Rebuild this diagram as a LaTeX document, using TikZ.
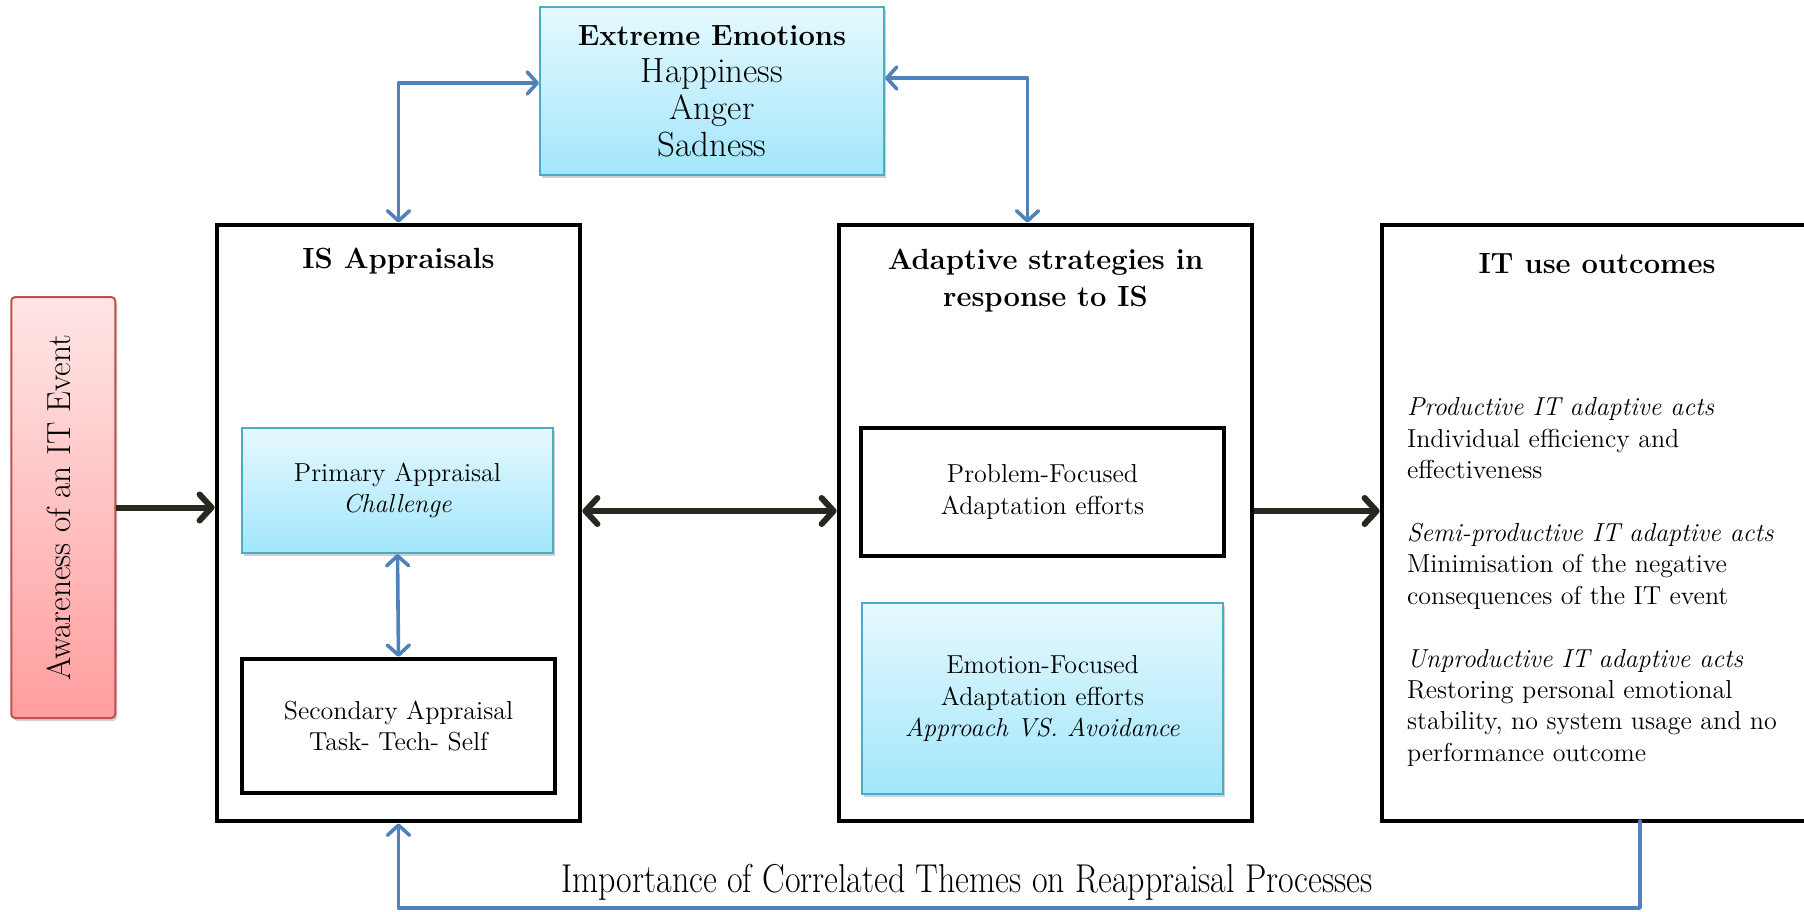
\documentclass[tikz,border=0pt]{standalone}
\usepackage{tikz}
\usetikzlibrary{arrows.meta,shadows}
\definecolor{arrowblue}{RGB}{79,129,189}
\definecolor{darkline}{RGB}{40,40,30}
\definecolor{cyanedge}{RGB}{75,172,198}
\definecolor{cyantop}{RGB}{230,249,254}
\definecolor{cyanbot}{RGB}{162,230,251}
\definecolor{pinktop}{RGB}{255,230,230}
\definecolor{pinkbot}{RGB}{255,158,158}
\definecolor{pinkedge}{RGB}{192,80,77}
\newcommand\bigtxt{\fontsize{17.5}{18.5}\selectfont}
\newcommand\headtxt{\fontsize{14.6}{18.5}\selectfont\bfseries}
\newcommand\smalltxt{\fontsize{13}{15.7}\selectfont}
\tikzset{
  bigbox/.style={draw=black,line width=2.4pt,inner sep=0pt},
  subbox/.style={draw=black,line width=2.1pt,inner sep=0pt,align=center,font=\smalltxt},
  softshadow/.style={drop shadow={shadow xshift=1pt,shadow yshift=-1.5pt,fill=black!30,opacity=.6}},
  bluebox/.style={draw=cyanedge,line width=1pt,top color=cyantop,bottom color=cyanbot,
    inner sep=0pt,align=center,font=\smalltxt,softshadow},
  bluearrow/.style={arrowblue,line width=1.8pt,line cap=round,line join=round},
  darkarrow/.style={darkline,line width=3pt,-{Straight Barb[length=6pt,width=13pt,round]}}
}
\begin{document}
\begin{tikzpicture}[x=0.5pt,y=-0.5pt]
  \clip (0,0) rectangle (1804,911);
  % left trigger
  \node[draw=pinkedge,line width=1pt,rounded corners=2pt,top color=pinktop,bottom color=pinkbot,
    minimum width=52pt,minimum height=210.5pt,inner sep=0pt,softshadow] (awareness) at (63.25,507.5) {};
  \node[rotate=90,font=\fontsize{16.7}{18.5}\selectfont] at ([xshift=-2pt]awareness.center) {Awareness of an IT Event};
  % emotions on top
  \node[bluebox,font=\bigtxt,minimum width=172pt,minimum height=84pt] (emotions) at (712,91)
    {{\headtxt Extreme Emotions}\\Happiness\\Anger\\Sadness};
  % three main boxes
  \node[bigbox,minimum width=181.5pt,minimum height=298pt] (appraisals) at (398.5,523) {};
  \node[font=\headtxt] at (398.5,261) {IS Appraisals};
  \node[bluebox,minimum width=155.5pt,minimum height=62.5pt] (primary) at (397.5,490.5)
    {Primary Appraisal\\\textit{Challenge}};
  \node[subbox,minimum width=156.5pt,minimum height=67pt] (secondary) at (398.5,726)
    {Secondary Appraisal\\Task- Tech- Self};
  \node[bigbox,minimum width=206.5pt,minimum height=298pt] (strategies) at (1045.5,523) {};
  \node[font=\headtxt,align=center] at (1045.5,281) {Adaptive strategies in\\response to IS};
  \node[subbox,minimum width=181.5pt,minimum height=64pt] (problem) at (1042.5,492)
    {Problem-Focused\\Adaptation efforts};
  \node[bluebox,minimum width=180.5pt,minimum height=95.5pt] (emotion) at (1042.5,698.5)
    {Emotion-Focused\\Adaptation efforts\\\textit{Approach VS. Avoidance}};
  \node[bigbox,minimum width=224pt,minimum height=298pt] (outcomes) at (1606,523) {};
  \node[font=\headtxt] at (1597,264) {IT use outcomes};
  \node[font=\smalltxt,align=left,anchor=west] at (1400,582)
    {\textit{Productive IT adaptive acts}\\Individual efficiency and\\effectiveness\\[15.7pt]
     \textit{Semi-productive IT adaptive acts}\\Minimisation of the negative\\consequences of the IT event\\[15.7pt]
     \textit{Unproductive IT adaptive acts}\\Restoring personal emotional\\stability, no system usage and no\\performance outcome};
  % connectors
  \draw[darkarrow] (awareness.east) -- (awareness.east -| appraisals.west);
  \draw[darkarrow,{Straight Barb[length=6pt,width=13pt,round]}-{Straight Barb[length=6pt,width=13pt,round]}]
    ([yshift=6pt]appraisals.east) -- ([yshift=6pt]strategies.west);
  \draw[darkarrow] ([yshift=6pt]strategies.east) -- ([yshift=6pt]outcomes.west);
  \draw[bluearrow,{Straight Barb[length=5pt,width=11pt,round]}-{Straight Barb[length=5pt,width=11pt,round]}]
    (appraisals.north) |- ([yshift=4pt]emotions.west);
  \draw[bluearrow,{Straight Barb[length=5pt,width=11pt,round]}-{Straight Barb[length=5pt,width=11pt,round]}]
    ([yshift=6.5pt]emotions.east) -| ([xshift=-9pt]strategies.north);
  \draw[bluearrow,{Straight Barb[length=5pt,width=11pt,round]}-{Straight Barb[length=5pt,width=11pt,round]}]
    (primary.south) -- (secondary.north);
  % feedback loop
  \coordinate (fbtop) at (1640,821);
  \coordinate (fbbottom) at (1640,908);
  \draw[bluearrow,-{Straight Barb[length=5pt,width=11pt,round]}]
    (fbtop) -- (fbbottom) -| (appraisals.south);
  \node[font=\fontsize{15.5}{18.5}\selectfont] (loop) at (967,882)
    {\scalebox{1.095}[1.3]{Importance of Correlated Themes on Reappraisal Processes}};
\end{tikzpicture}
\end{document}
